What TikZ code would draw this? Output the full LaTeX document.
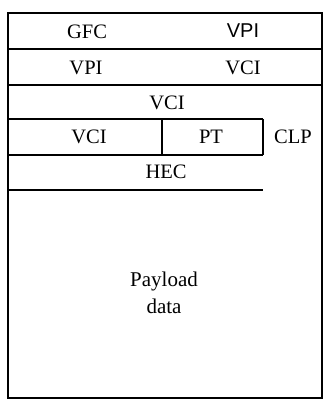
\documentclass[tikz,border=0pt]{standalone}
\usepackage{fontspec}
\setmainfont{Liberation Serif}
\newfontfamily\hsans{Liberation Sans}
\begin{document}
\begin{tikzpicture}[x=1pt,y=-1pt,
  lbl/.style={font=\fontsize{20.5}{22}\selectfont, inner sep=0pt, anchor=center},
  rule/.style={line width=1.8pt, black}]
\useasboundingbox (0,0) rectangle (323,399);
% outer frame
\draw[rule] (8,13) -- (322,13) -- (322,398) -- (8,398) -- cycle;
% row separators
\draw[rule] (8,49) -- (322,49);
\draw[rule] (8,85) -- (322,85);
\draw[rule] (8,119) -- (263,119);
\draw[rule] (8,155) -- (263,155);
\draw[rule] (8,190) -- (263,190);
% vertical dividers
\draw[rule] (162,119) -- (162,155);
\draw[rule] (263,119) -- (263,155);
% labels
\node[lbl] (gfc) at (87,32) {GFC};
\node[lbl, font=\hsans\fontsize{20}{22}\selectfont] (vpia) at (243,31) {VPI};
\node[lbl] (vpib) at (86,68) {VPI};
\node[lbl] (vcia) at (243,68) {VCI};
\node[lbl] (vcib) at (167,103) {VCI};
\node[lbl] (vcic) at (89,137) {VCI};
\node[lbl] (pt) at (211,137) {PT};
\node[lbl] (clp) at (293,137) {CLP};
\node[lbl] (hec) at (166,172) {HEC};
\node[lbl, align=center, font=\fontsize{21}{27}\selectfont] (payload) at (164,293) {Payload\\data};
\end{tikzpicture}
\end{document}
